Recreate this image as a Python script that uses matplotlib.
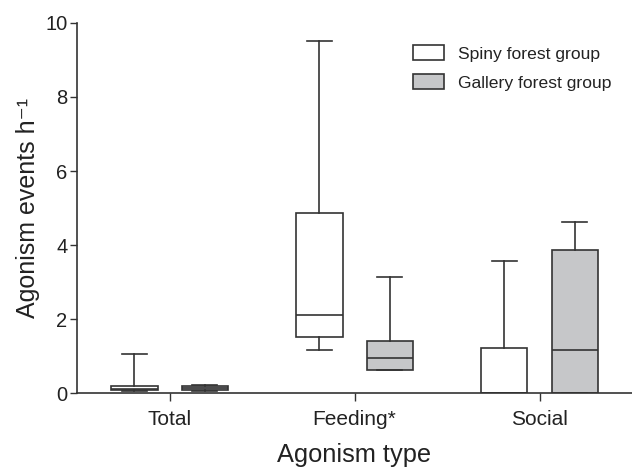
import matplotlib
matplotlib.use("Agg")
import matplotlib.pyplot as plt
from matplotlib.patches import Patch

plt.rcParams["font.family"] = ["Liberation Sans", "DejaVu Sans"]
plt.rcParams["text.color"] = "#222222"
plt.rcParams["axes.labelcolor"] = "#222222"
plt.rcParams["xtick.labelcolor"] = "#222222"
plt.rcParams["ytick.labelcolor"] = "#222222"

categories = ["Total", "Feeding*", "Social"]
groups = ["Spiny forest group", "Gallery forest group"]
group_colors = ["white", "#c6c7c9"]

# five-number summaries: (min, q1, median, q3, max)
spiny = [
    (0.06, 0.08, 0.12, 0.20, 1.07),
    (1.17, 1.51, 2.10, 4.87, 9.52),
    (0.00, 0.00, 0.00, 1.21, 3.57),
]
gallery = [
    (0.07, 0.08, 0.13, 0.19, 0.22),
    (0.62, 0.62, 0.95, 1.41, 3.14),
    (0.00, 0.00, 1.16, 3.86, 4.61),
]


def to_stats(rows):
    return [dict(whislo=a, q1=b, med=c, q3=d, whishi=e, fliers=[]) for a, b, c, d, e in rows]


fig = plt.figure(figsize=(6.32, 4.68), dpi=100)
ax = fig.add_axes([0.122, 0.160, 0.878, 0.791])

line_col = "#333333"
offset = 0.19
width = 0.25
for i, (data, color) in enumerate(zip([spiny, gallery], group_colors)):
    pos = [k + 1 + (offset if i else -offset) for k in range(len(categories))]
    ax.bxp(
        to_stats(data),
        positions=pos,
        widths=width,
        patch_artist=True,
        showfliers=False,
        boxprops=dict(facecolor=color, edgecolor=line_col, linewidth=1.2),
        medianprops=dict(color=line_col, linewidth=1.2),
        whiskerprops=dict(color=line_col, linewidth=1.2),
        capprops=dict(color=line_col, linewidth=1.2),
        capwidths=width * 0.55,
        manage_ticks=False,
    )

ax.set_xlim(0.5, 3.5)
ax.set_ylim(0, 10)
ax.set_xticks([1, 2, 3])
ax.set_xticklabels(categories)
ax.set_yticks([0, 2, 4, 6, 8, 10])
ax.tick_params(axis="y", labelsize=14.5, length=5, color=line_col, width=1, pad=2)
ax.tick_params(axis="x", labelsize=15, length=6, color=line_col, width=1, pad=6)
for side in ["top", "right"]:
    ax.spines[side].set_visible(False)
for side in ["left", "bottom"]:
    ax.spines[side].set_color(line_col)
    ax.spines[side].set_linewidth(1.2)

ax.set_ylabel("Agonism events h⁻¹", fontsize=18, labelpad=4)
ax.set_xlabel("Agonism type", fontsize=18.3, labelpad=10)

handles = [Patch(facecolor=c, edgecolor=line_col, linewidth=1.2) for c in group_colors]
ax.legend(handles, groups, loc="upper left", frameon=False, fontsize=12.6,
          bbox_to_anchor=(0.605, 0.94), borderaxespad=0, borderpad=0,
          handlelength=1.77, handleheight=0.97, handletextpad=0.8, labelspacing=0.7)

fig.savefig("out.png", dpi=100)
